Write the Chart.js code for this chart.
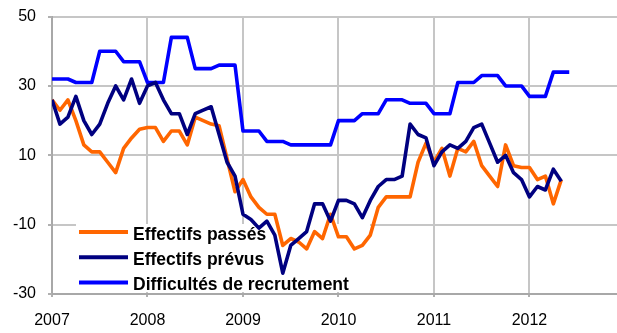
<!DOCTYPE html>
<html><head><meta charset="utf-8">
<script src="https://cdn.jsdelivr.net/npm/chart.js@4.4.1/dist/chart.umd.min.js"></script>
<style>html,body{margin:0;padding:0;background:#fff;overflow:hidden}#wrap{width:617px;height:333px;position:relative}</style>
</head><body><div id="wrap"><canvas id="c" width="617" height="333"></canvas></div>
<script>
// Tick labels
const yearLabels = ['2007', '2008', '2009', '2010', '2011', '2012'];
const yTicks = [-30, -10, 10, 30, 50];
// Series names
const seriesNames = ['Effectifs passés', 'Effectifs prévus', 'Difficultés de recrutement'];
// Monthly values, from January 2007
const effectifsPasses = [
  26, 23, 26, 20, 13, 11, 11, 8, 5, 12, 15, 17.5,
  18, 18, 14, 17, 17, 13, 21, 20, 19, 18.5, 9, -0.5,
  3, -2, -5, -7, -7, -16, -14, -15, -17, -12, -14, -7,
  -13.5, -13.5, -17, -16, -13, -5, -2, -2, -2, -2, 8, 13.5,
  8, 12, 4, 12, 11, 14, 7, 4, 1, 13, 7, 6.5,
  6.5, 3, 4, -4, 3
];
const effectifsPrevus = [
  26, 19, 21, 27, 20, 16, 19, 25, 30, 26, 32, 25,
  30, 31, 26, 22, 22, 16, 22, 23, 24, 16, 8, 4,
  -7, -8.5, -11, -9, -13, -24, -16, -14, -12, -4, -4, -9,
  -3, -3, -4, -8, -3, 1, 3, 3, 4, 19, 16, 15,
  7, 11, 13, 12, 14, 18, 19, 13.5, 8, 10, 5, 3,
  -2, 1, 0, 6, 2.5
];
const difficultesRecrutement = [
  32, 32, 32, 31, 31, 31, 40, 40, 40, 37, 37, 37,
  31, 31, 31, 44, 44, 44, 35, 35, 35, 36, 36, 36,
  17, 17, 17, 14, 14, 14, 13, 13, 13, 13, 13, 13,
  20, 20, 20, 22, 22, 22, 26, 26, 26, 25, 25, 25,
  22, 22, 22, 31, 31, 31, 33, 33, 33, 30, 30, 30,
  27, 27, 27, 34, 34, 34
];

const toPoints = arr => arr.map((v, i) => ({ x: i, y: v }));
const FONT = '"Liberation Sans", Arial, sans-serif';

const legendPlugin = {
  id: 'customLegend',
  beforeDatasetsDraw(chart) {
    const ctx = chart.ctx;
    const a = chart.chartArea;
    ctx.save();
    ctx.fillStyle = '#ffffff';
    ctx.fillRect(a.left + 24, a.bottom - 70, 294, 68);
    // small axis tick marks
    ctx.strokeStyle = '#b0b0b0';
    ctx.lineWidth = 2;
    const ys = chart.scales.y;
    ys.ticks.forEach(t => {
      const py = Math.round(ys.getPixelForValue(t.value));
      ctx.beginPath(); ctx.moveTo(a.left - 4, py); ctx.lineTo(a.left, py); ctx.stroke();
    });
    chart.data.datasets.forEach((ds, i) => {
      const y = a.bottom - 62 + i * 25.3;
      ctx.strokeStyle = ds.borderColor;
      ctx.lineWidth = 4;
      ctx.lineCap = 'butt';
      ctx.beginPath();
      ctx.moveTo(a.left + 27, y);
      ctx.lineTo(a.left + 76, y);
      ctx.stroke();
      ctx.fillStyle = '#000';
      ctx.font = 'bold 17.5px ' + FONT;
      ctx.textBaseline = 'alphabetic';
      ctx.fillText(ds.label, a.left + 81, y + 7.5);
    });
    ctx.restore();
  }
};

new Chart(document.getElementById('c'), {
  type: 'line',
  data: {
    datasets: [
      { label: seriesNames[0], data: toPoints(effectifsPasses), borderColor: '#FF6600', order: 1 },
      { label: seriesNames[1], data: toPoints(effectifsPrevus), borderColor: '#000080', order: 0 },
      { label: seriesNames[2], data: toPoints(difficultesRecrutement), borderColor: '#0000FF', order: 2 }
    ]
  },
  options: {
    responsive: false,
    animation: false,
    devicePixelRatio: 1,
    layout: { padding: { top: 0, right: 0, left: 0, bottom: 0 } },
    elements: {
      point: { radius: 0, hoverRadius: 0 },
      line: { borderWidth: 3.6, tension: 0, fill: false, borderJoinStyle: 'round', borderCapStyle: 'butt' }
    },
    plugins: { legend: { display: false }, tooltip: { enabled: false } },
    scales: {
      x: {
        type: 'linear',
        min: 0,
        max: 71,
        afterBuildTicks: s => { s.ticks = yearLabels.map((_, i) => ({ value: i * 12 })); },
        afterFit: s => { s.height = 39; },
        grid: { color: '#c6c6c6', lineWidth: 2, tickLength: 3, tickColor: '#b0b0b0' },
        border: { color: '#a8a8a8', width: 2 },
        ticks: {
          autoSkip: false, maxRotation: 0, padding: 14, color: '#000',
          font: { family: FONT, size: 16 },
          callback: v => yearLabels[Math.round(v / 12)]
        }
      },
      y: {
        min: -30,
        max: 50,
        afterBuildTicks: s => { s.ticks = yTicks.map(v => ({ value: v })); },
        afterFit: s => { s.width = 52; },
        grid: { color: '#c6c6c6', lineWidth: 2, tickLength: 9, tickColor: 'rgba(0,0,0,0)' },
        border: { color: '#a8a8a8', width: 2 },
        ticks: { padding: 7, color: '#000', font: { family: FONT, size: 16 } }
      }
    }
  },
  plugins: [legendPlugin]
});
</script>
</body></html>
